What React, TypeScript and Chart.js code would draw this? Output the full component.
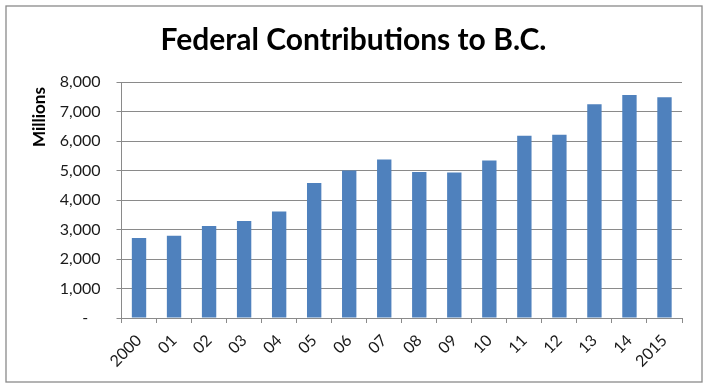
import React, { useEffect, useRef } from "react";
import { Chart, registerables } from "chart.js";

Chart.register(...registerables);

const TITLE = "Federal Contributions to B.C.";
const Y_TITLE = "Millions";
const categories = ["2000", "01", "02", "03", "04", "05", "06", "07", "08", "09", "10", "11", "12", "13", "14", "2015"];
const contributions = [2710, 2790, 3120, 3290, 3610, 4580, 5000, 5370, 4950, 4930, 5340, 6180, 6210, 7250, 7560, 7480];
const Y_MIN = 0;
const Y_MAX = 8000;
const Y_STEP = 1000;

const FONT = "Lato, 'Open Sans', sans-serif";

const decorPlugin = {
  id: "decor",
  beforeDraw(chart: any) {
    const ctx = chart.ctx;
    ctx.save();
    ctx.fillStyle = "#ffffff";
    ctx.fillRect(0, 0, chart.width, chart.height);
    ctx.strokeStyle = "#8a8a8a";
    ctx.lineWidth = 1.3;
    ctx.strokeRect(6, 6, 696, 376);
    ctx.restore();
  },
  afterDraw(chart: any) {
    const ctx = chart.ctx;
    ctx.save();
    ctx.fillStyle = "#000000";
    ctx.font = `bold 30px ${FONT}`;
    ctx.textAlign = "center";
    ctx.textBaseline = "alphabetic";
    ctx.fillText(TITLE, 353.5, 50);
    ctx.translate(45, 117);
    ctx.rotate(-Math.PI / 2);
    ctx.font = `bold 17px ${FONT}`;
    ctx.textAlign = "center";
    ctx.fillText(Y_TITLE, 0, 0);
    ctx.restore();
  },
};

export default function App() {
  const ref = useRef<HTMLCanvasElement | null>(null);
  useEffect(() => {
    if (!ref.current) return;
    const chart = new Chart(ref.current, {
      type: "bar",
      data: {
        labels: categories,
        datasets: [
          {
            data: contributions,
            backgroundColor: "#4F81BD",
            borderWidth: 0,
            barPercentage: 0.41,
            categoryPercentage: 1,
          },
        ],
      },
      options: {
        responsive: false,
        animation: false,
        devicePixelRatio: 1,
        layout: { padding: { left: 0, right: 26, top: 82, bottom: 0 } },
        plugins: {
          legend: { display: false },
          title: { display: false },
          tooltip: { enabled: false },
        },
        scales: {
          x: {
            afterFit: (s: any) => {
              s.height = 70;
            },
            grid: {
              display: true,
              drawOnChartArea: false,
              drawTicks: true,
              tickLength: 5,
              color: "#8a8a8a",
              offset: true,
            },
            border: { display: true, color: "#8a8a8a", width: 1 },
            ticks: {
              minRotation: 45,
              maxRotation: 45,
              autoSkip: false,
              padding: 8,
              color: "#1a1a1a",
              font: { family: FONT, size: 16 },
            },
          },
          y: {
            min: Y_MIN,
            max: Y_MAX,
            afterFit: (s: any) => {
              s.width = 121.5;
            },
            grid: {
              color: "#8a8a8a",
              tickLength: 5,
              drawTicks: true,
            },
            border: { display: true, color: "#8a8a8a", width: 1 },
            ticks: {
              stepSize: Y_STEP,
              padding: 16,
              color: "#1a1a1a",
              font: { family: FONT, size: 16 },
              callback: (v: any) => (Number(v) === 0 ? "-   " : Number(v).toLocaleString("en-US")),
            },
          },
        },
      },
      plugins: [decorPlugin],
    });
    return () => chart.destroy();
  }, []);
  return (
    <div style={{ position: "fixed", left: 0, top: 0, width: 708, height: 388, background: "#fff" }}>
      <canvas ref={ref} width={708} height={388} style={{ display: "block" }} />
    </div>
  );
}
